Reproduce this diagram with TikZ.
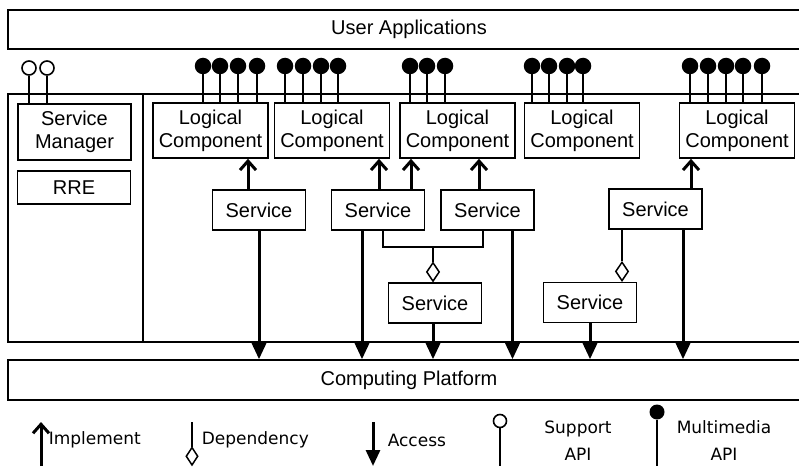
\documentclass[tikz,border=0pt]{standalone}
\usepackage{fontspec}
\setmainfont{Liberation Sans}
\newfontfamily\legendfont{DejaVu Sans}
\usetikzlibrary{arrows.meta,shapes.geometric}

\begin{document}
\begin{tikzpicture}[x=1pt,y=-1pt,line width=1.6pt,
    box/.style={draw,rectangle,inner sep=0,align=center,font=\fontsize{20}{23}\selectfont},
    lcomp/.style={box,minimum width=115,minimum height=55},
    serv/.style={box,minimum width=93,minimum height=40},
    bar/.style={box,minimum width=802,minimum height=39},
    mpin/.style={circle,fill=black,inner sep=0,minimum size=16.5},
    spin/.style={circle,draw,fill=white,inner sep=0,minimum size=14},
    stem/.style={line width=2pt},
    impl/.style={line width=3pt,-{Straight Barb[length=9pt,width=16pt]}},
    acc/.style={line width=3pt,-{Triangle[length=16pt,width=14pt]}},
    dep/.style={line width=1.5pt},
    depd/.style={diamond,draw,fill=white,inner sep=0,minimum width=13,minimum height=19,line width=1.5pt},
    leg/.style={inner sep=0,align=center,font=\legendfont\fontsize{17}{27}\selectfont}]
    \useasboundingbox (0,0) rectangle (799,468);
    \clip (0,0) rectangle (799,468);
    % the two layers, open to the right
    \node[bar] (ua) at (409,29.5) {User Applications};
    \node[bar,minimum height=40] (cp) at (409,380) {Computing Platform};
    \draw (8,94) rectangle (143,342);
    \draw (143,94) rectangle (812,342);
    % service manager side
    \node[box,minimum width=113,minimum height=56] (sm) at (74.5,132) {Service\\Manager};
    \node[box,minimum width=113,minimum height=33] (rre) at (74,187.5) {RRE};
    \foreach \x in {29,47} {
        \node[spin] (sp\x) at (\x,68) {};
        \draw[stem] (sp\x) -- (sp\x |- sm.north);
    }
    % logical components
    \node[lcomp] (lc1) at (210.5,130.5) {Logical\\Component};
    \node[lcomp] (lc2) at (332,130.5) {Logical\\Component};
    \node[lcomp] (lc3) at (457.5,130.5) {Logical\\Component};
    \node[lcomp] (lc4) at (582,130.5) {Logical\\Component};
    \node[lcomp] (lc5) at (737,130.5) {Logical\\Component};
    % multimedia API pins
    \foreach \lc/\xs in {lc1/{203,220,238,257},lc2/{285,303,321,338},lc3/{410,427,445},
                         lc4/{532,549,567,583},lc5/{690,708,726,743,762}} {
        \foreach \x in \xs {
            \draw[stem] (\x,66) -- (\x,66 |- \lc.north);
            \node[mpin] (\lc-\x) at (\x,66) {};
        }
    }
    % services
    \node[serv] (s1) at (259,210) {Service};
    \node[serv] (s2) at (378,210) {Service};
    \node[serv] (s3) at (487.5,210) {Service};
    \node[serv] (s4) at (655.5,209) {Service};
    \node[serv] (s5) at (435,303) {Service};
    \node[serv] (s6) at (590,302.5) {Service};
    % implement
    \draw[impl] (s1.north -| 248,0) -- (lc1.south -| 248,0);
    \draw[impl] (s2.north -| 379,0) -- (lc2.south -| 379,0);
    \draw[impl] (s2.north -| 411,0) -- (lc3.south -| 411,0);
    \draw[impl] (s3.north -| 479,0) -- (lc3.south -| 479,0);
    \draw[impl] (s4.north -| 691,0) -- (lc5.south -| 691,0);
    % dependency
    \node[depd,anchor=south] (d1) at (s5.north -| 433,0) {};
    \node[depd,anchor=south] (d2) at (s6.north -| 622,0) {};
    \coordinate (j1) at (433,247);
    \draw[dep] (s2.south -| 383,0) |- (j1) -| (s3.south -| 483,0);
    \draw[dep] (j1) -- (d1.north);
    \draw[dep] (s4.south -| 622,0) -- (d2.north);
    % access
    \draw[acc] (s1.south -| 259,0) -- (cp.north -| 259,0);
    \draw[acc] (s2.south -| 362,0) -- (cp.north -| 362,0);
    \draw[acc] (s5.south -| 433,0) -- (cp.north -| 433,0);
    \draw[acc] (s3.south -| 512.5,0) -- (cp.north -| 512.5,0);
    \draw[acc] (s6.south -| 590,0) -- (cp.north -| 590,0);
    \draw[acc] (s4.south -| 683,0) -- (cp.north -| 683,0);
    % legend
    \coordinate (impA) at (41,466);
    \coordinate (impB) at (41,422);
    \draw[impl] (impA) -- (impB);
    \node[leg,anchor=west] (limp) at (48,440) {Implement};
    \node[depd,anchor=south,minimum width=12,minimum height=18] (ldd) at (192,466) {};
    \coordinate (depA) at (192,422);
    \draw[dep] (depA) -- (ldd.north);
    \node[leg,anchor=west] (ldep) at (201,440) {Dependency};
    \coordinate (accA) at (373,422);
    \coordinate (accB) at (373,466);
    \draw[acc] (accA) -- (accB);
    \node[leg,anchor=west] (lacc) at (387,440) {Access};
    \node[spin,minimum size=13] (lsp) at (500,421) {};
    \coordinate (spB) at (500,466);
    \draw[stem] (lsp) -- (spB);
    \node[leg] (lspt) at (578,441) {Support\\API};
    \node[mpin,minimum size=15] (lmp) at (657,412) {};
    \coordinate (mpB) at (657,466);
    \draw[stem] (lmp) -- (mpB);
    \node[leg] (lmpt) at (724,441) {Multimedia\\API};
\end{tikzpicture}
\end{document}
